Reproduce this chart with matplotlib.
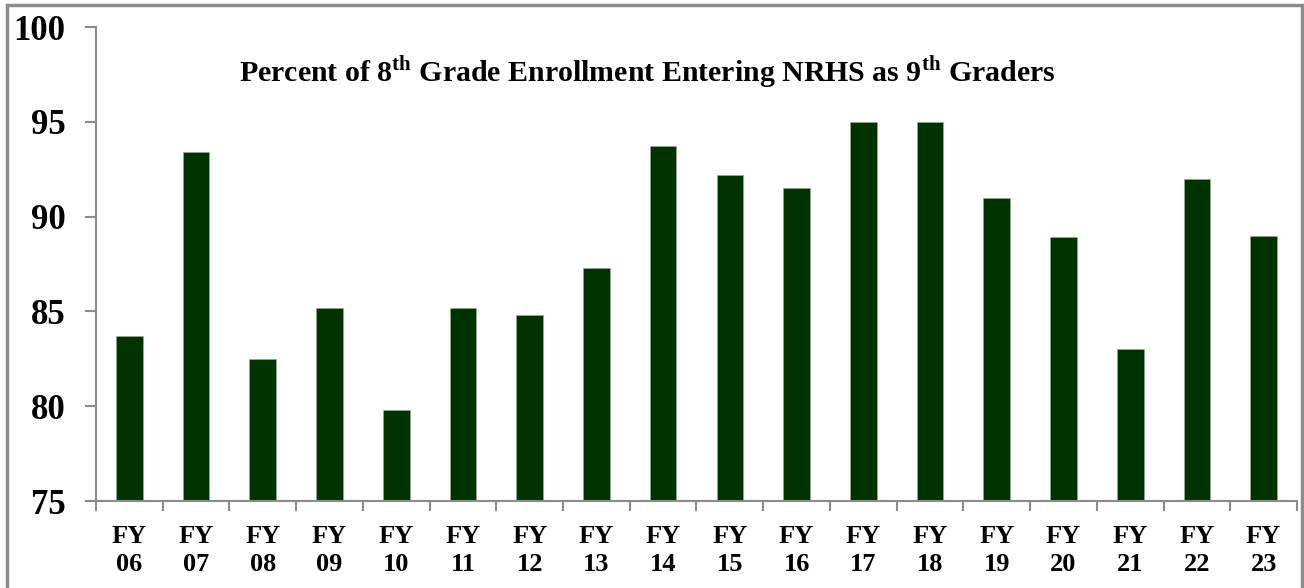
import matplotlib
matplotlib.use("Agg")
import matplotlib.pyplot as plt
from matplotlib.patches import Rectangle
import numpy as np

categories = ["FY\n06", "FY\n07", "FY\n08", "FY\n09", "FY\n10", "FY\n11", "FY\n12", "FY\n13", "FY\n14",
              "FY\n15", "FY\n16", "FY\n17", "FY\n18", "FY\n19", "FY\n20", "FY\n21", "FY\n22", "FY\n23"]
values = [83.7, 93.4, 82.5, 85.2, 79.8, 85.2, 84.8, 87.3, 93.7,
          92.2, 91.5, 95.0, 95.0, 91.0, 88.9, 83.0, 92.0, 89.0]
yticks = [75, 80, 85, 90, 95, 100]
title = "Percent of 8$^{\\mathrm{th}}$ Grade Enrollment Entering NRHS as 9$^{\\mathrm{th}}$ Graders"

plt.rcParams['font.family'] = ['Liberation Serif', 'DejaVu Serif']
plt.rcParams['font.weight'] = 'bold'
plt.rcParams['mathtext.fontset'] = 'custom'
plt.rcParams['mathtext.rm'] = 'Liberation Serif:bold'

fig = plt.figure(figsize=(13.04, 5.88), dpi=100)
ax = fig.add_axes([96/1304, 87/588, 1201/1304, 474/588])

x = np.arange(len(values))
ax.bar(x, np.array(values) - 75, bottom=75, width=0.4, color="#003300",
       edgecolor="#9aa89a", linewidth=0.5)

ax.set_xlim(-0.5, len(values) - 0.5)
ax.set_ylim(75, 100)
ax.set_yticks(yticks)
ax.set_yticklabels([str(t) for t in yticks], fontsize=25, fontweight='bold')
ax.set_xticks(x)
ax.set_xticklabels(categories, fontsize=19, fontweight='bold', linespacing=1.3)
ax.set_xticks(np.arange(len(values) + 1) - 0.5, minor=True)
ax.tick_params(axis='x', which='major', length=0, pad=17)
ax.tick_params(axis='x', which='minor', length=7, color='#8c8c8c', width=1.5, direction='out')
ax.tick_params(axis='y', length=8, color='#8c8c8c', width=1.5, pad=14)

for side in ['top', 'right']:
    ax.spines[side].set_visible(False)
for side in ['left', 'bottom']:
    ax.spines[side].set_color('#8c8c8c')
    ax.spines[side].set_linewidth(1.5)

ax.text(0.459, 0.905, title, transform=ax.transAxes, ha='center', va='center',
        fontsize=21.5, fontweight='bold')

# figure frame
fig.patches.append(Rectangle((7/1304, -0.01), (1302 - 7)/1304, (588 - 5)/588 + 0.01,
                             transform=fig.transFigure, fill=False,
                             edgecolor='#8c8c8c', linewidth=2.5))

fig.savefig("out.png", dpi=100)
